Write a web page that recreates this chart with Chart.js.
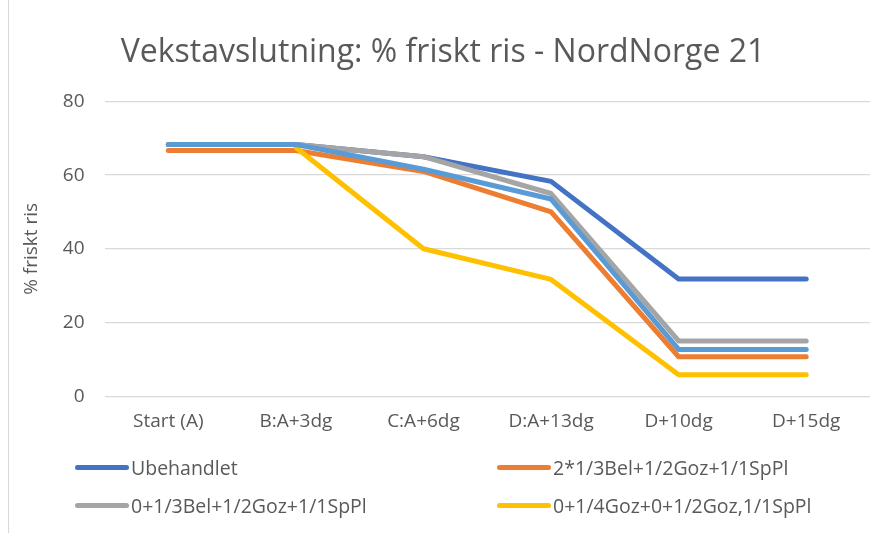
<!DOCTYPE html>
<html>
<head>
<meta charset="utf-8">
<script src="https://cdn.jsdelivr.net/npm/chart.js@4"></script>
<style>
  html, body { margin: 0; padding: 0; background: #fff; }
  #wrap { position: relative; width: 882px; height: 533px; overflow: hidden; }
  #frame { position: absolute; left: 8px; top: 0; width: 1px; height: 533px; background: #d9d9d9; }
  #legend {
    position: absolute; left: 75px; top: 454px;
    display: grid; grid-template-columns: 422px 320px; row-gap: 12px;
    font-family: "Open Sans", sans-serif; font-size: 19.5px; color: #595959;
  }
  .item { display: flex; align-items: center; height: 26px; }
  .swatch { width: 54px; height: 5px; border-radius: 3px; margin-right: 2px; }
</style>
</head>
<body>
<div id="wrap">
  <div id="frame"></div>
  <canvas id="myChart" width="882" height="533"></canvas>
  <div id="legend"></div>
</div>
<script>
const labels = ["Start (A)", "B:A+3dg", "C:A+6dg", "D:A+13dg", "D+10dg", "D+15dg"];

const ubehandlet = [68.3, 68.3, 65.0, 58.3, 31.8, 31.8];
const bel2 = [66.7, 66.7, 61.0, 50.0, 10.7, 10.7];
const bel0 = [68.3, 68.3, 65.0, 55.0, 15.0, 15.0];
const goz = [null, 67.5, 40.0, 31.7, 5.8, 5.8];
const ekstra = [68.3, 68.3, 61.6, 53.5, 12.7, 12.7];

const names = [
  "Ubehandlet",
  "2*1/3Bel+1/2Goz+1/1SpPl",
  "0+1/3Bel+1/2Goz+1/1SpPl",
  "0+1/4Goz+0+1/2Goz,1/1SpPl",
  "Serie5",
];
const colors = ["#4472C4", "#ED7D31", "#A5A5A5", "#FFC000", "#5B9BD5"];
const series = [ubehandlet, bel2, bel0, goz, ekstra];
const yTicks = [0, 20, 40, 60, 80];

const font = "'Open Sans', sans-serif";
const grey = "#595959";

const ctx = document.getElementById("myChart");

const chart = new Chart(ctx, {
  type: "line",
  data: {
    labels: labels,
    datasets: series.map((d, i) => ({
      label: names[i],
      data: d,
      borderColor: colors[i],
      backgroundColor: colors[i],
      borderWidth: 5,
      borderCapStyle: "round",
      borderJoinStyle: "round",
      pointRadius: 0,
      tension: 0,
      order: series.length - i,
    })),
  },
  options: {
    responsive: false,
    animation: false,
    layout: {
      padding: { left: 16, right: 12, top: 10, bottom: 86 },
    },
    scales: {
      y: {
        min: 0,
        max: 80,
        afterBuildTicks: (axis) => {
          axis.ticks = yTicks.map((v) => ({ value: v }));
        },
        ticks: {
          color: grey,
          padding: 20,
          font: { family: font, size: 19 },
        },
        grid: { color: "#d9d9d9", lineWidth: 1.3, drawTicks: false },
        border: { display: false },
        title: {
          display: true,
          text: "% friskt ris",
          color: grey,
          font: { family: font, size: 19 },
          padding: { bottom: 0 },
        },
      },
      x: {
        offset: true,
        ticks: {
          color: grey,
          padding: 14,
          maxRotation: 0,
          font: { family: font, size: 19 },
        },
        grid: { display: false, drawTicks: false },
        border: { display: false },
      },
    },
    plugins: {
      legend: { display: false },
      tooltip: { enabled: false },
      title: {
        display: true,
        text: "Vekstavslutning: % friskt ris - NordNorge 21",
        color: grey,
        font: { family: font, size: 32, weight: "normal" },
        padding: { top: 24, bottom: 29 },
      },
    },
  },
});

// legend like the spreadsheet: two columns, only the first four series
const legend = document.getElementById("legend");
names.slice(0, 4).forEach((n, i) => {
  const item = document.createElement("div");
  item.className = "item";
  item.innerHTML = '<span class="swatch" style="background:' + colors[i] + '"></span><span>' + n + "</span>";
  legend.appendChild(item);
});
</script>
</body>
</html>
